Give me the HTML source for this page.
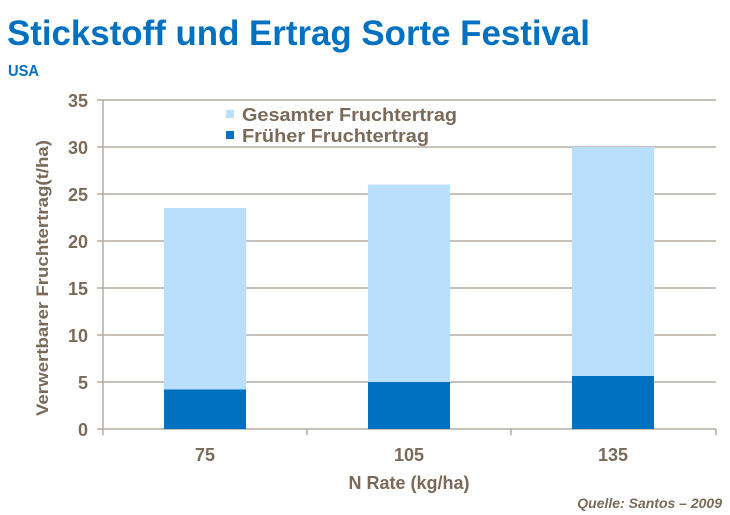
<!DOCTYPE html>
<html><head><meta charset="utf-8"><style>
html,body{margin:0;padding:0;background:#fff;width:730px;height:515px;overflow:hidden}
svg{display:block}
text{font-family:"Liberation Sans",Arial,sans-serif;font-weight:bold}
</style></head><body>
<svg width="730" height="515" viewBox="0 0 730 515">
<text x="7" y="45" font-size="35" fill="#0070c0" textLength="583" lengthAdjust="spacingAndGlyphs">Stickstoff und Ertrag Sorte Festival</text>
<text x="8" y="76" font-size="16" fill="#0070c0" textLength="31" lengthAdjust="spacingAndGlyphs">USA</text>
<g stroke="#b5aca3" stroke-width="1.5">
<line x1="97" y1="100" x2="716" y2="100"/>
<line x1="97" y1="147" x2="716" y2="147"/>
<line x1="97" y1="194" x2="716" y2="194"/>
<line x1="97" y1="241" x2="716" y2="241"/>
<line x1="97" y1="288" x2="716" y2="288"/>
<line x1="97" y1="335" x2="716" y2="335"/>
<line x1="97" y1="382" x2="716" y2="382"/>
<line x1="97" y1="429" x2="716" y2="429"/>
<line x1="103" y1="100" x2="103" y2="435"/>
<line x1="307" y1="429" x2="307" y2="435"/>
<line x1="511" y1="429" x2="511" y2="435"/>
<line x1="716" y1="429" x2="716" y2="435"/>
</g>
<g fill="#b9dffc">
<rect x="164" y="208" width="82" height="221"/>
<rect x="368" y="184.5" width="82" height="244.5"/>
<rect x="572" y="147" width="82" height="282"/>
</g>
<g fill="#0070c0">
<rect x="164" y="389.5" width="82" height="39.5"/>
<rect x="368" y="382" width="82" height="47"/>
<rect x="572" y="376" width="82" height="53"/>
</g>
<g font-size="18" fill="#7a6a5a" text-anchor="end">
<text x="88" y="107">35</text>
<text x="88" y="154">30</text>
<text x="88" y="201">25</text>
<text x="88" y="248">20</text>
<text x="88" y="295">15</text>
<text x="88" y="342">10</text>
<text x="88" y="389">5</text>
<text x="88" y="436">0</text>
</g>
<g font-size="18" fill="#7a6a5a" text-anchor="middle">
<text x="205" y="461">75</text>
<text x="409" y="461">105</text>
<text x="613" y="461">135</text>
<text x="409" y="489">N Rate (kg/ha)</text>
</g>
<text transform="translate(48,278) rotate(-90)" font-size="17" fill="#7a6a5a" text-anchor="middle" textLength="276" lengthAdjust="spacingAndGlyphs">Verwertbarer Fruchtertrag(t/ha)</text>
<rect x="226" y="110" width="8" height="8" fill="#b9dffc"/>
<rect x="226" y="131" width="8" height="8" fill="#0070c0"/>
<text x="242" y="121" font-size="18" fill="#7a6a5a" textLength="215" lengthAdjust="spacingAndGlyphs">Gesamter Fruchtertrag</text>
<text x="242" y="142" font-size="18" fill="#7a6a5a" textLength="187" lengthAdjust="spacingAndGlyphs">Früher Fruchtertrag</text>
<text x="722" y="508" font-size="14" font-style="italic" fill="#7a6a5a" text-anchor="end">Quelle: Santos – 2009</text>
</svg>
</body></html>
